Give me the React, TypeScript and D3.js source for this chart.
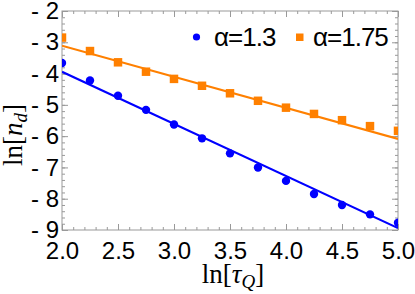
import React, { useEffect, useRef } from 'react'
import { select, scaleLinear, axisBottom, axisTop, axisLeft, axisRight, range, line, symbol, symbolSquare } from 'd3'

// ln(tau_Q) sample points
const lnTau = [2.0, 2.25, 2.5, 2.75, 3.0, 3.25, 3.5, 3.75, 4.0, 4.25, 4.5, 4.75, 5.0]
// ln(n_d) for alpha = 1.3 (blue circles) and alpha = 1.75 (orange squares)
const lnNdA13 = [-3.66, -4.22, -4.71, -5.16, -5.63, -6.07, -6.55, -7.0, -7.43, -7.85, -8.2, -8.5, -8.77]
const lnNdA175 = [-2.85, -3.28, -3.64, -3.94, -4.17, -4.39, -4.63, -4.87, -5.09, -5.29, -5.49, -5.68, -5.83]
// fitted straight lines, value at each end of the x range
const fitX = [2.0, 5.0]
const fitA13 = [-3.94, -8.94]
const fitA175 = [-3.11, -6.09]

const xTicks = [2.0, 2.5, 3.0, 3.5, 4.0, 4.5, 5.0]
const yTicks = [-2, -3, -4, -5, -6, -7, -8, -9]
const legendLabels = ['α=1.3', 'α=1.75']

export default function App() {

    const chart = useRef<SVGSVGElement>(null)

    const width = 415
    const height = 294
    const margin = ({ top: 11, right: 17, bottom: 64, left: 62 })

    const blue = '#0000ff'
    const orange = '#ff8000'
    const frame = '#999'

    useEffect(() => {
        const svg = select(chart.current)
        svg.selectAll('*').remove()

        const x = scaleLinear()
            .domain([2, 5])
            .range([margin.left, width - margin.right])

        const y = scaleLinear()
            .domain([-2, -9])
            .range([margin.top, height - margin.bottom])

        // minor ticks every 0.1 on x, every 0.2 on y
        const xMinor = range(20, 51).map(d => d / 10)
        const yMinor = range(10, 46).map(d => -d / 5)

        const styleAxis = (g: any) => {
            g.select('.domain').remove()
            g.selectAll('.tick line').attr('stroke', frame).attr('stroke-width', 1)
        }

        // minor ticks on all four sides
        svg.append('g').attr('transform', `translate(0,${y(-9)})`)
            .call(axisBottom(x).tickValues(xMinor).tickSize(-3).tickFormat(() => ''))
            .call(styleAxis)
        svg.append('g').attr('transform', `translate(0,${y(-2)})`)
            .call(axisTop(x).tickValues(xMinor).tickSize(-3).tickFormat(() => ''))
            .call(styleAxis)
        svg.append('g').attr('transform', `translate(${x(2)},0)`)
            .call(axisLeft(y).tickValues(yMinor).tickSize(-3).tickFormat(() => ''))
            .call(styleAxis)
        svg.append('g').attr('transform', `translate(${x(5)},0)`)
            .call(axisRight(y).tickValues(yMinor).tickSize(-3).tickFormat(() => ''))
            .call(styleAxis)

        // major ticks + labels
        svg.append('g').attr('transform', `translate(0,${y(-9)})`)
            .call(axisBottom(x).tickValues(xTicks).tickSize(-6).tickPadding(12).tickFormat((d: any) => d.toFixed(1)))
            .call(styleAxis)
            .call(g => g.selectAll('text')
                .attr('fill', '#000')
                .attr('font-family', '"Liberation Sans", Arial, sans-serif')
                .attr('font-size', 24))
        svg.append('g').attr('transform', `translate(0,${y(-2)})`)
            .call(axisTop(x).tickValues(xTicks).tickSize(-6).tickFormat(() => ''))
            .call(styleAxis)
        svg.append('g').attr('transform', `translate(${x(2)},0)`)
            .call(axisLeft(y).tickValues(yTicks).tickSize(-6).tickPadding(3).tickFormat((d: any) => `- ${Math.abs(d)}`))
            .call(styleAxis)
            .call(g => g.selectAll('text')
                .attr('fill', '#000')
                .attr('font-family', '"Liberation Sans", Arial, sans-serif')
                .attr('font-size', 24))
        svg.append('g').attr('transform', `translate(${x(5)},0)`)
            .call(axisRight(y).tickValues(yTicks).tickSize(-6).tickFormat(() => ''))
            .call(styleAxis)

        // frame
        svg.append('rect')
            .attr('x', x(2)).attr('y', y(-2))
            .attr('width', x(5) - x(2)).attr('height', y(-9) - y(-2))
            .attr('fill', 'none').attr('stroke', frame).attr('stroke-width', 1)

        svg.append('clipPath').attr('id', 'plot-clip')
            .append('rect')
            .attr('x', x(2)).attr('y', y(-2))
            .attr('width', x(5) - x(2)).attr('height', y(-9) - y(-2))

        const plot = svg.append('g').attr('clip-path', 'url(#plot-clip)')

        const fitLine = line<number>()
            .x((_, i) => x(fitX[i]))
            .y(d => y(d))

        plot.append('path').datum(fitA175)
            .attr('fill', 'none').attr('stroke', orange).attr('stroke-width', 2.2)
            .attr('d', fitLine)
        plot.append('path').datum(fitA13)
            .attr('fill', 'none').attr('stroke', blue).attr('stroke-width', 2.2)
            .attr('d', fitLine)

        plot.selectAll('.sq').data(lnNdA175).join('path')
            .attr('transform', (d, i) => `translate(${x(lnTau[i])},${y(d)})`)
            .attr('d', symbol(symbolSquare, 72)())
            .attr('fill', orange)

        plot.selectAll('.dot').data(lnNdA13).join('circle')
            .attr('cx', (_, i) => x(lnTau[i]))
            .attr('cy', d => y(d))
            .attr('r', 4.2)
            .attr('fill', blue)

        // legend
        const legend = svg.append('g')
            .attr('font-family', '"Liberation Sans", Arial, sans-serif')
            .attr('font-size', 26)
        legend.append('circle').attr('cx', 196.5).attr('cy', 37).attr('r', 3.6).attr('fill', blue)
        legend.append('text').attr('x', 214).attr('y', 46).attr('letter-spacing', -1).text(legendLabels[0])
        legend.append('rect').attr('x', 296).attr('y', 33.5).attr('width', 7.5).attr('height', 7.5).attr('fill', orange)
        legend.append('text').attr('x', 313).attr('y', 46).attr('letter-spacing', -1).text(legendLabels[1])

        // axis titles
        const ylab = svg.append('text')
            .attr('transform', `translate(22,135) rotate(-90)`)
            .attr('text-anchor', 'middle')
            .attr('font-family', '"Liberation Serif", "Times New Roman", serif')
            .attr('font-size', 27)
        ylab.append('tspan').text('ln[')
        ylab.append('tspan').attr('font-style', 'italic').text('n')
        ylab.append('tspan').attr('font-style', 'italic').attr('font-size', 19).attr('dy', 5).text('d')
        ylab.append('tspan').attr('dy', -5).text(']')

        const xlab = svg.append('text')
            .attr('transform', `translate(233,283)`)
            .attr('text-anchor', 'middle')
            .attr('font-family', '"Liberation Serif", "Times New Roman", serif')
            .attr('font-size', 27)
        xlab.append('tspan').text('ln[')
        xlab.append('tspan').attr('font-style', 'italic').text('τ')
        xlab.append('tspan').attr('font-style', 'italic').attr('font-size', 19).attr('dy', 5).text('Q')
        xlab.append('tspan').attr('dy', -5).text(']')
    }, [])

    return (
        <svg ref={chart} width={width} height={height}
            style={{ position: 'absolute', left: 0, top: 0, background: '#fff' }} />
    )
}
